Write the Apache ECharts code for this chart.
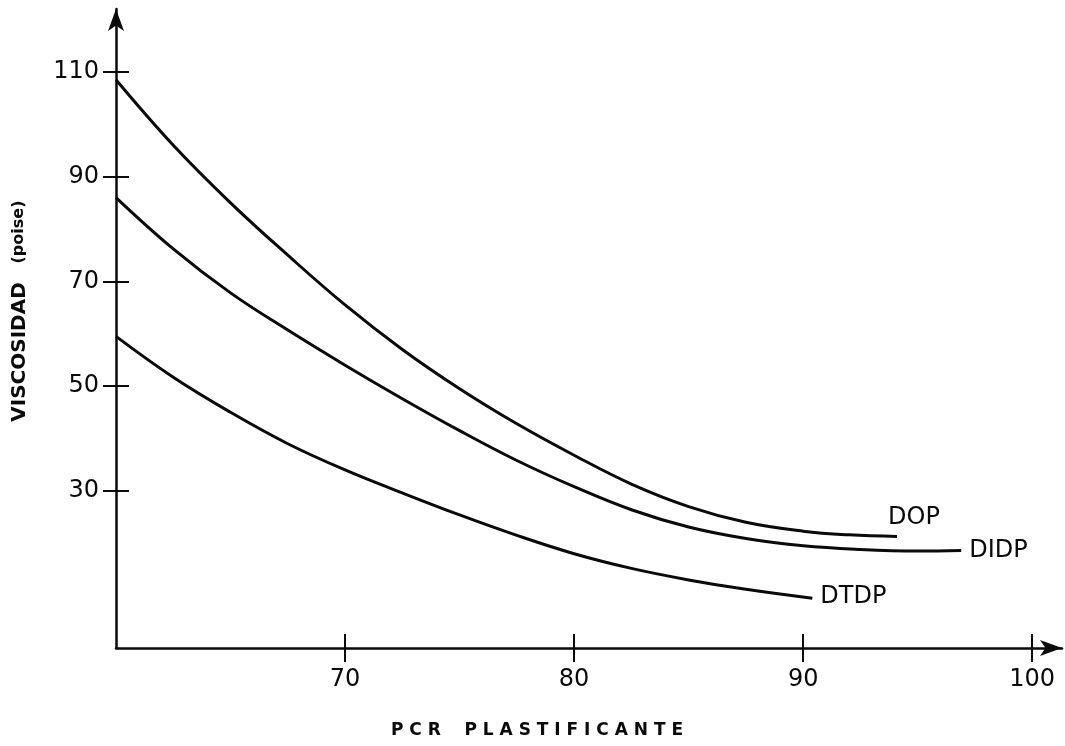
<!DOCTYPE html>
<html lang="es">
<head>
    <meta charset="UTF-8">
    <title>Viscosidad vs PCR plastificante</title>
    <script src="https://cdn.jsdelivr.net/npm/echarts@6/dist/echarts.min.js"></script>
    <style type="text/css">
        html, body { margin: 0; padding: 0; background: #fff; }
        #chart { width: 1065px; height: 746px; }
    </style>
</head>
<body>
<div id="chart"></div>
<script type="text/javascript">
    // datos (x = PCR plastificante, y = viscosidad en poise)
    var dop = [[60, 108.5], [62.5, 96], [65, 85], [67.5, 75], [70, 65.5], [72.5, 57], [75, 49.5],
        [77.5, 42.8], [80, 36.8], [82.5, 31.3], [85, 27], [87.5, 24], [90, 22.3], [92, 21.6], [94.1, 21.3]];
    var didp = [[60, 86], [62.5, 76.2], [65, 67.8], [67.5, 60.7], [70, 54], [72.5, 47.6], [75, 41.5],
        [77.5, 35.8], [80, 30.8], [82.5, 26.4], [85, 23.1], [87.5, 20.9], [90, 19.5], [92.5, 18.8],
        [95, 18.5], [96.9, 18.6]];
    var dtdp = [[60, 59.5], [62.5, 51.7], [65, 45], [67.5, 39], [70, 34], [72.5, 29.6], [75, 25.4],
        [77.5, 21.5], [80, 18], [82.5, 15.2], [85, 13], [87.5, 11.2], [90.4, 9.5]];
    var xTicks = [70, 80, 90, 100];
    var yTicks = [30, 50, 70, 90, 110];

    var chart = echarts.init(document.getElementById('chart'));

    var ink = '#0a0a0a';
    var labelFont = {color: ink, fontSize: 24, fontFamily: 'DejaVu Sans'};

    function curve(name, pts, off) {
        return {
            name: name,
            type: 'line',
            data: pts,
            smooth: 0.4,
            showSymbol: false,
            silent: true,
            lineStyle: {color: ink, width: 3},
            endLabel: {
                show: true,
                formatter: '{a}',
                color: ink,
                fontSize: 24,
                fontFamily: 'DejaVu Sans',
                offset: off
            }
        };
    }

    var option = {
        backgroundColor: '#fff',
        animation: false,
        grid: {left: 116, right: 3, top: 9, bottom: 98},
        xAxis: [{
            type: 'value', min: 60, max: 101.3,
            splitLine: {show: false},
            axisLine: {show: true, symbol: ['none', 'arrow'], symbolSize: [12, 22], lineStyle: {color: ink, width: 2.5}},
            axisTick: {show: true, customValues: xTicks, length: 14, lineStyle: {color: ink, width: 2}},
            axisLabel: Object.assign({customValues: xTicks, margin: 20}, labelFont)
        }, {
            type: 'value', min: 60, max: 101.3, position: 'bottom',
            splitLine: {show: false},
            axisLine: {show: false},
            axisTick: {show: true, inside: true, customValues: xTicks, length: 14, lineStyle: {color: ink, width: 2}},
            axisLabel: {show: false}
        }],
        yAxis: [{
            type: 'value', min: 0, max: 122,
            splitLine: {show: false},
            axisLine: {show: true, symbol: ['none', 'arrow'], symbolSize: [12, 22], lineStyle: {color: ink, width: 2.5}},
            axisTick: {show: true, customValues: yTicks, length: 13, lineStyle: {color: ink, width: 2}},
            axisLabel: Object.assign({customValues: yTicks, margin: 17}, labelFont)
        }, {
            type: 'value', min: 0, max: 122, position: 'left',
            splitLine: {show: false},
            axisLine: {show: false},
            axisTick: {show: true, inside: true, customValues: yTicks, length: 13, lineStyle: {color: ink, width: 2}},
            axisLabel: {show: false}
        }],
        graphic: [{
            type: 'text',
            x: 20, y: 352,
            rotation: Math.PI / 2,
            style: {
                text: 'VISCOSIDAD',
                fill: ink,
                align: 'center',
                verticalAlign: 'middle',
                fontSize: 20,
                fontWeight: 'bold',
                fontFamily: 'DejaVu Sans'
            }
        }, {
            type: 'text',
            x: 19, y: 232,
            rotation: Math.PI / 2,
            style: {
                text: '(poise)',
                fill: ink,
                align: 'center',
                verticalAlign: 'middle',
                fontSize: 16,
                fontWeight: 'bold',
                fontFamily: 'DejaVu Sans'
            }
        }, {
            type: 'text',
            x: 537, y: 731,
            style: {
                text: 'P C R    P L A S T I F I C A N T E',
                fill: ink,
                align: 'center',
                verticalAlign: 'middle',
                fontSize: 17,
                fontWeight: 'bold',
                fontFamily: 'DejaVu Sans'
            }
        }],
        series: [
            curve('DOP', dop, [-17, -19]),
            curve('DIDP', didp, [0, 0]),
            curve('DTDP', dtdp, [0, -1])
        ]
    };
    chart.setOption(option);
</script>
</body>
</html>
